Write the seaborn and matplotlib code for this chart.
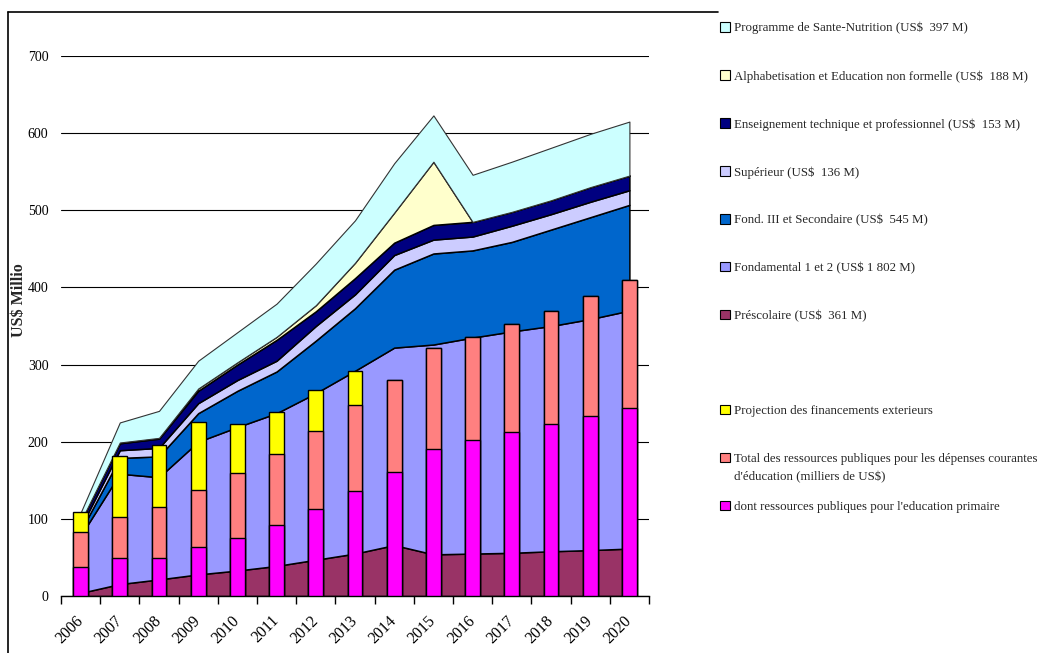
import matplotlib
matplotlib.use("Agg")
import matplotlib.pyplot as plt
import numpy as np
import pandas as pd
import seaborn as sns
from matplotlib.lines import Line2D
from matplotlib.patches import Patch

# --- data (US$ millions) ---
years = [str(y) for y in range(2006, 2021)]

# stacked areas, bottom to top
prescolaire = [4, 15.5, 21.5, 28, 33, 39, 47, 55, 66, 54, 55, 56, 58, 59.5, 61.5]
fondamental_12 = [74, 143, 132.5, 172, 186, 198, 216, 237, 256, 272, 280, 287, 292, 299.5, 308.5]
fond3_secondaire = [6, 20.5, 27, 37, 47, 54, 68, 81, 101, 118, 113, 116, 125, 132, 137]
superieur = [5, 10, 11, 13, 14, 14, 19, 18, 19, 18, 18, 21, 20, 20, 19]
technique = [7, 9, 12, 16, 20, 27, 19, 21, 16, 19, 19, 18, 18, 19, 19]
alphabetisation = [0.5, 1, 1, 3, 3, 4, 8, 20, 39, 82, 0, 0, 0, 0, 0]
sante_nutrition = [11.5, 26, 35, 36, 39, 43, 54, 55, 64, 60, 61, 65, 68, 69, 70]

# stacked columns
res_primaire = [38, 49, 49, 64, 75.5, 92, 113, 136, 160.5, 191, 202, 212.5, 223.5, 233, 243.5]
res_total = [82.5, 102, 116, 138, 159, 184, 214, 247, 280, 321, 336, 352, 370, 389, 409]
proj_ext = [26.5, 80, 80, 87, 63.5, 54.5, 53, 45, 0, 0, 0, 0, 0, 0, 0]

area_labels = [
    "Préscolaire (US$  361 M)",
    "Fondamental 1 et 2 (US$ 1 802 M)",
    "Fond. III et Secondaire (US$  545 M)",
    "Supérieur (US$  136 M)",
    "Enseignement technique et professionnel (US$  153 M)",
    "Alphabetisation et Education non formelle (US$  188 M)",
    "Programme de Sante-Nutrition (US$  397 M)",
]
area_colors = ["#993366", "#9999FF", "#0066CC", "#CCCCFF", "#000080", "#FFFFCC", "#CCFFFF"]

bar_labels = [
    "Projection des financements exterieurs",
    "Total des ressources publiques pour les dépenses courantes",
    "dont ressources publiques pour l'education primaire",
]
bar_label_cont = "d'éducation (milliers de US$)"
bar_colors = ["#FFFF00", "#FF8080", "#FF00FF"]

sns.set_theme(style="white")
plt.rcParams["font.family"] = ["Liberation Serif", "DejaVu Serif"]

W, H = 1044, 653
fig = plt.figure(figsize=(W / 100, H / 100), dpi=100)
ax = fig.add_axes([61 / W, 1 - 596 / H, 588 / W, 540 / H])

x = np.arange(len(years))
layers = [prescolaire, fondamental_12, fond3_secondaire, superieur,
          technique, alphabetisation, sante_nutrition]
polys = ax.stackplot(x, layers, colors=area_colors, edgecolor="black",
                     linewidth=1.1, zorder=1)
polys[-1].set_edgecolor("#333333")
polys[-1].set_linewidth(0.8)

df = pd.DataFrame({"year": years, "primaire": res_primaire,
                   "total": res_total, "proj": proj_ext})
df["avec_proj"] = df["total"] + df["proj"]
for col, color in [("avec_proj", bar_colors[0]), ("total", bar_colors[1]),
                   ("primaire", bar_colors[2])]:
    sns.barplot(data=df, x="year", y=col, color=color, saturation=1,
                width=0.38, edgecolor="black", linewidth=1.0,
                errorbar=None, ax=ax, zorder=3)

ax.set_xlim(-0.5, len(years) - 0.5)
ax.set_ylim(0, 700)
ax.set_yticks(range(0, 701, 100))
ax.set_xlabel("")
ax.set_ylabel("")
ax.set_axisbelow(True)
ax.yaxis.grid(True, color="black", linewidth=0.8)
ax.xaxis.grid(False)
for side in ["top", "right", "left"]:
    ax.spines[side].set_visible(False)
ax.spines["bottom"].set_color("black")
ax.spines["bottom"].set_linewidth(1.0)

ax.set_xticks(x)
ax.set_xticklabels(years, rotation=45, ha="right", va="center",
                   rotation_mode="anchor")
ax.set_xticks(np.arange(-0.5, len(years), 1), minor=True)
ax.tick_params(axis="x", which="major", length=0, pad=16, labelsize=11.5,
               colors="black")
ax.tick_params(axis="x", which="minor", bottom=True, length=6, width=1,
               color="black", direction="out")
ax.tick_params(axis="y", length=0, pad=9, labelsize=10, colors="black")

fig.text(19 / W, 1 - 300 / H, "US$ Millio", rotation=90, fontweight="bold",
         fontsize=11.5, ha="center", va="center")

# outer frame (top and left edges visible)
fig.add_artist(Line2D([8 / W, 718 / W], [1 - 12 / H, 1 - 12 / H],
                      color="black", linewidth=1.2, transform=fig.transFigure))
fig.add_artist(Line2D([8 / W, 8 / W], [0, 1 - 12 / H],
                      color="black", linewidth=1.2, transform=fig.transFigure))

leg_kw = dict(loc="upper left", frameon=False, fontsize=9.3,
              handlelength=0.75, handleheight=0.75, handletextpad=0.35,
              borderaxespad=0, borderpad=0, labelspacing=2.75)

area_handles = [Patch(facecolor=c, edgecolor="black", linewidth=0.8)
                for c in area_colors]
fig.legend(area_handles[::-1], area_labels[::-1],
           bbox_to_anchor=(720 / W, 1 - 22 / H), **leg_kw)

bar_handles = [Patch(facecolor=c, edgecolor="black", linewidth=0.8)
               for c in bar_colors]
fig.legend(bar_handles, bar_labels,
           bbox_to_anchor=(720 / W, 1 - 405 / H), **leg_kw)
fig.text(734 / W, 1 - 477 / H, bar_label_cont, fontsize=9.3,
         ha="left", va="center")

fig.savefig("out.png", dpi=100)
